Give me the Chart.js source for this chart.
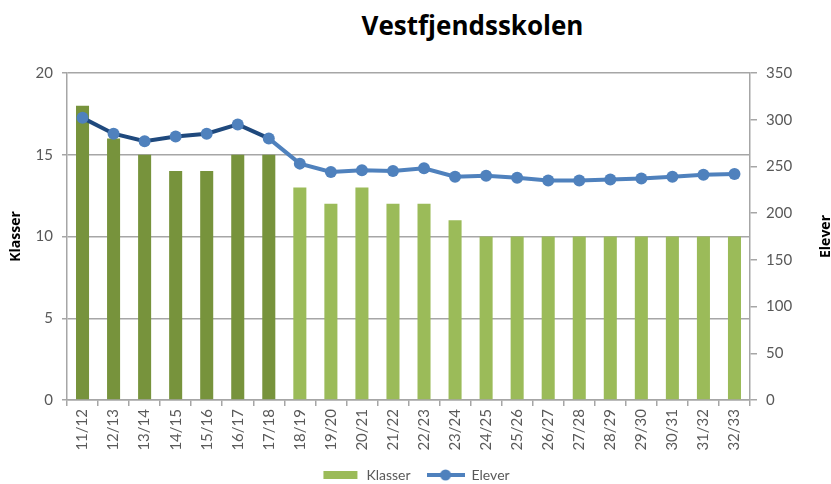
<!DOCTYPE html>
<html>
<head>
<meta charset="utf-8">
<script src="https://cdn.jsdelivr.net/npm/chart.js@4.4.1/dist/chart.umd.min.js"></script>
<style>
  html, body { margin: 0; padding: 0; background: #fff; }
  #wrap { position: relative; width: 831px; height: 484px; overflow: hidden; }
  #title {
    position: absolute; top: 7px; left: 0; width: 831px;
    box-sizing: border-box; padding-left: 114px; text-align: center;
    font: bold 26px "Open Sans", sans-serif; color: #000;
  }
  canvas { position: absolute; top: 0; left: 0; }
</style>
</head>
<body>
<div id="wrap">
  <div id="title">Vestfjendsskolen</div>
  <canvas id="chart" width="831" height="484"></canvas>
</div>
<script>
// School years
const seasons = ['11/12', '12/13', '13/14', '14/15', '15/16', '16/17', '17/18', '18/19',
    '19/20', '20/21', '21/22', '22/23', '23/24', '24/25', '25/26', '26/27', '27/28',
    '28/29', '29/30', '30/31', '31/32', '32/33'];

// Number of classes (bars, left axis)
const klasser = [18, 16, 15, 14, 14, 15, 15, 13, 12, 13, 12, 12, 11, 10, 10, 10, 10, 10, 10, 10, 10, 10];

// Number of pupils (line, right axis)
const elever = [302, 285, 277, 282, 285, 295, 280, 253, 244, 246, 245, 248, 239, 240, 238, 235, 235, 236, 237, 239, 241, 242];

// Axis ranges
const klasserAxis = { max: 20, step: 5 };
const eleverAxis = { max: 350, step: 50 };

// First years are actual figures (darker colours), the rest a forecast
const actualCount = 7;

const DARK_GREEN = '#77933C';
const LIGHT_GREEN = '#9BBB59';
const DARK_BLUE = '#1F497D';
const BLUE = '#4F81BD';
const GRID = '#a6a6a6';
const TEXT = '#595959';

// Legend symbols drawn like the Excel ones
function legendSymbol(kind) {
    const c = document.createElement('canvas');
    c.width = 38; c.height = 12;
    const g = c.getContext('2d');
    if (kind === 'bar') {
        g.fillStyle = LIGHT_GREEN;
        g.fillRect(2, 2, 34, 8);
    } else {
        g.strokeStyle = BLUE;
        g.lineWidth = 4;
        g.beginPath(); g.moveTo(0, 6); g.lineTo(38, 6); g.stroke();
        g.fillStyle = BLUE;
        g.beginPath(); g.arc(19, 6, 5.5, 0, Math.PI * 2); g.fill();
    }
    return c;
}

// Rotated axis titles (both read bottom to top)
const axisTitles = {
    id: 'axisTitles',
    afterDraw(chart) {
        const { ctx, chartArea, scales } = chart;
        const cy = (chartArea.top + chartArea.bottom) / 2;
        ctx.save();
        ctx.font = 'bold 14px "Open Sans", sans-serif';
        ctx.fillStyle = '#000';
        ctx.textAlign = 'center';
        ctx.textBaseline = 'middle';
        [[scales.y.left + 16, 'Klasser'], [scales.y1.right - 5, 'Elever']].forEach(([x, t]) => {
            ctx.save();
            ctx.translate(x, cy);
            ctx.rotate(-Math.PI / 2);
            ctx.fillText(t, 0, 0);
            ctx.restore();
        });
        ctx.restore();
    }
};

new Chart(document.getElementById('chart'), {
    type: 'bar',
    data: {
        labels: seasons,
        datasets: [{
            label: 'Klasser',
            data: klasser,
            yAxisID: 'y',
            order: 1,
            backgroundColor: ctx => (ctx.dataIndex < actualCount ? DARK_GREEN : LIGHT_GREEN),
            barPercentage: 0.42,
            categoryPercentage: 1
        }, {
            type: 'line',
            label: 'Elever',
            data: elever,
            yAxisID: 'y1',
            order: 0,
            borderColor: BLUE,
            borderWidth: 4,
            segment: {
                borderColor: ctx => (ctx.p1DataIndex < actualCount ? DARK_BLUE : BLUE)
            },
            pointRadius: 6,
            pointBackgroundColor: BLUE,
            pointBorderWidth: 0,
            tension: 0
        }]
    },
    options: {
        responsive: false,
        animation: false,
        layout: { padding: { top: 73, left: 0, right: 0, bottom: -8 } },
        plugins: {
            legend: {
                position: 'bottom',
                labels: {
                    usePointStyle: true,
                    pointStyleWidth: 38,
                    padding: 16,
                    color: TEXT,
                    font: { family: 'Lato', size: 14 },
                    generateLabels(chart) {
                        return chart.data.datasets.map((ds, i) => ({
                            text: ds.label,
                            datasetIndex: i,
                            pointStyle: legendSymbol(i === 0 ? 'bar' : 'line'),
                            fontColor: TEXT,
                            lineWidth: 0
                        }));
                    }
                }
            },
            tooltip: { enabled: false }
        },
        scales: {
            x: {
                grid: { drawOnChartArea: false, drawTicks: true, tickLength: 6, color: GRID, lineWidth: 1.5 },
                border: { color: GRID, width: 1.5 },
                ticks: { minRotation: 90, maxRotation: 90, color: TEXT, font: { family: 'Lato', size: 15 }, padding: 3 },
                afterFit: s => { s.height = 52; }
            },
            y: {
                position: 'left',
                min: 0,
                max: klasserAxis.max,
                ticks: { stepSize: klasserAxis.step, color: TEXT, font: { family: 'Lato', size: 15 }, padding: 9 },
                grid: { color: GRID, lineWidth: 1.5, tickLength: 5 },
                border: { color: GRID, width: 1.5 },
                afterFit: s => { s.width = 67; }
            },
            y1: {
                position: 'right',
                min: 0,
                max: eleverAxis.max,
                ticks: { stepSize: eleverAxis.step, color: TEXT, font: { family: 'Lato', size: 15 }, padding: 9 },
                grid: { drawOnChartArea: false, color: GRID, lineWidth: 1.5, tickLength: 7 },
                border: { color: GRID, width: 1.5 },
                afterFit: s => { s.width = 81; }
            }
        }
    },
    plugins: [axisTitles]
});
</script>
</body>
</html>
